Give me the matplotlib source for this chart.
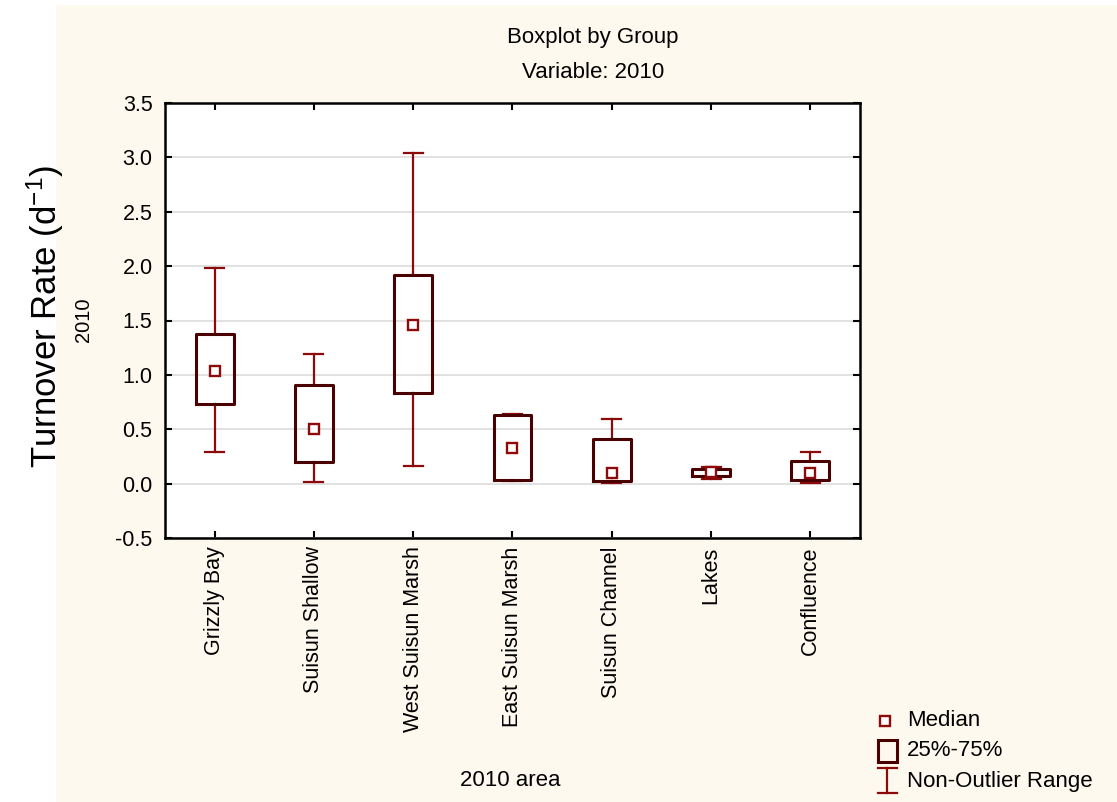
import matplotlib
matplotlib.use("Agg")
import matplotlib.pyplot as plt
from matplotlib.patches import Rectangle

plt.rcParams['font.family'] = ['Liberation Sans', 'DejaVu Sans']
plt.rcParams['axes.unicode_minus'] = False
plt.rcParams['mathtext.default'] = 'regular'

# values (turnover rate, 1/d)
areas = ["Grizzly Bay", "Suisun Shallow", "West Suisun Marsh", "East Suisun Marsh",
         "Suisun Channel", "Lakes", "Confluence"]
medians = [1.04, 0.50, 1.46, 0.33, 0.10, 0.11, 0.10]
q1 = [0.73, 0.20, 0.83, 0.03, 0.02, 0.07, 0.03]
q3 = [1.38, 0.91, 1.92, 0.63, 0.41, 0.13, 0.21]
whis_lo = [0.29, 0.015, 0.16, 0.025, 0.005, 0.04, 0.006]
whis_hi = [1.98, 1.19, 3.04, 0.64, 0.59, 0.15, 0.29]
y_ticks = [-0.5, 0.0, 0.5, 1.0, 1.5, 2.0, 2.5, 3.0, 3.5]

W, H = 1117, 802
box_col = '#4a0000'
whisk_col = '#8c0a0a'
cream = '#fef9ee'

fig = plt.figure(figsize=(W / 100, H / 100), dpi=100)
fig.patches.append(Rectangle((56 / W, 0), 1 - 56 / W, (H - 5) / H,
                             transform=fig.transFigure, facecolor=cream,
                             edgecolor='none', zorder=-10))

ax = fig.add_axes([165 / W, 1 - 538 / H, (860 - 165) / W, (538 - 103) / H])
ax.set_facecolor('white')

stats = []
for i in range(len(areas)):
    stats.append(dict(med=medians[i], q1=q1[i], q3=q3[i],
                      whislo=whis_lo[i], whishi=whis_hi[i], fliers=[]))
pos = list(range(len(areas)))
ax.bxp(stats, positions=pos, widths=0.38, showfliers=False,
       boxprops=dict(color=box_col, linewidth=2.2, zorder=4),
       whiskerprops=dict(color=whisk_col, linewidth=1.6),
       capprops=dict(color=whisk_col, linewidth=1.6),
       medianprops=dict(linestyle='none'),
       capwidths=0.19, manage_ticks=False)
ax.plot(pos, medians, ls='none', marker='s', markersize=7.5,
        markerfacecolor='white', markeredgecolor=whisk_col,
        markeredgewidth=1.7, zorder=5)

ax.set_xlim(-0.5, 6.5)
ax.set_ylim(-0.5, 3.5)
ax.set_yticks(y_ticks)
ax.set_yticklabels([f"{v:.1f}" for v in y_ticks], fontsize=15.5)
ax.set_xticks(pos)
ax.set_xticklabels(areas, rotation=90, fontsize=15.5, va='top')
ax.tick_params(direction='in', length=5, width=1.5, top=True, right=True,
               color='black')
ax.tick_params(axis='y', pad=9)
ax.tick_params(axis='x', pad=6)
ax.yaxis.grid(True, color='#dcdcdc', linewidth=1.2)
ax.set_axisbelow(True)
for s in ax.spines.values():
    s.set_linewidth(1.8)
    s.set_color('black')

fig.text(593 / W, 1 - 37 / H, "Boxplot by Group", ha='center', va='center', fontsize=16)
fig.text(593 / W, 1 - 72 / H, "Variable: 2010", ha='center', va='center', fontsize=16)
fig.text(45 / W, 1 - 316 / H, r"Turnover Rate (d$^{-1}$)", rotation=90,
         ha='center', va='center', fontsize=25)
fig.text(83 / W, 1 - 320 / H, "2010", rotation=90, ha='center', va='center', fontsize=14.5)
fig.text(510 / W, 1 - 780 / H, "2010 area", ha='center', va='center', fontsize=16)

# legend drawn in pixel coordinates
lax = fig.add_axes([860 / W, 0, (W - 860) / W, 100 / H])
lax.set_xlim(860, W)
lax.set_ylim(H, H - 100)
lax.axis('off')
lax.plot([885], [721], ls='none', marker='s', markersize=7.5, markerfacecolor='white',
         markeredgecolor=whisk_col, markeredgewidth=1.7)
lax.add_patch(Rectangle((878, 740), 19, 22, facecolor='none', edgecolor=box_col, linewidth=2.2))
lax.plot([887, 887], [768, 793], color=whisk_col, lw=1.6)
lax.plot([878, 897], [768, 768], color=whisk_col, lw=1.6)
lax.plot([878, 897], [793, 793], color=whisk_col, lw=1.6)
lax.text(907, 721, "Median", va='center', ha='left', fontsize=16)
lax.text(907, 751, "25%-75%", va='center', ha='left', fontsize=16)
lax.text(907, 781, "Non-Outlier Range", va='center', ha='left', fontsize=16)

fig.savefig("out.png", dpi=100)
